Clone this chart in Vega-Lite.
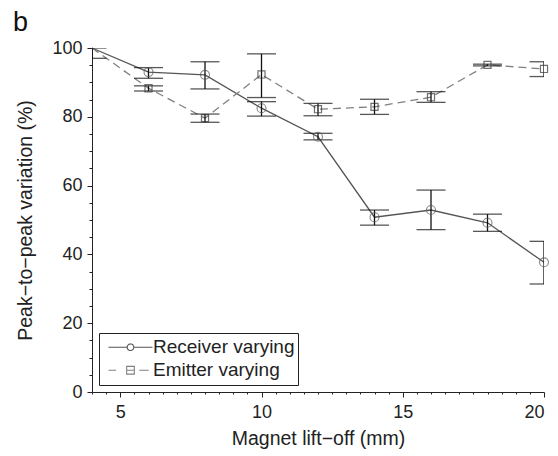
{
  "$schema": "https://vega.github.io/schema/vega-lite/v6.json",
  "width": 452,
  "height": 344,
  "autosize": {"type": "none"},
  "padding": {"left": 92, "top": 48, "right": 14, "bottom": 64},
  "background": "white",
  "config": {
    "view": {"stroke": null},
    "font": "Liberation Sans",
    "axis": {
      "grid": false,
      "domainColor": "#222",
      "tickColor": "#222",
      "labelColor": "#222",
      "titleColor": "#222",
      "labelFont": "Liberation Sans",
      "titleFont": "Liberation Sans",
      "labelFontSize": 18,
      "titleFontSize": 19.5,
      "titleFontWeight": "normal",
      "labelOverlap": false
    },
    "legend": {
      "title": null,
      "orient": "bottom-left",
      "offset": 7,
      "strokeColor": "#222",
      "fillColor": "white",
      "padding": 3,
      "rowPadding": 0,
      "clipHeight": 22.5,
      "symbolSize": 3025,
      "symbolStrokeWidth": 1,
      "labelFont": "Liberation Sans",
      "labelFontSize": 19,
      "labelColor": "#222",
      "labelOffset": -6
    }
  },
  "title": {
    "text": "b",
    "anchor": "start",
    "frame": "group",
    "font": "Liberation Sans",
    "fontSize": 27,
    "fontWeight": "normal",
    "color": "#111",
    "dx": -79,
    "offset": 2
  },
  "data": {
    "values": [
      {"x": 4, "series": "Receiver varying", "y": 100, "lo": null, "hi": null},
      {"x": 6, "series": "Receiver varying", "y": 93.0, "lo": 91.2, "hi": 94.3},
      {"x": 8, "series": "Receiver varying", "y": 92.2, "lo": 88.1, "hi": 96.0},
      {"x": 10, "series": "Receiver varying", "y": 82.5, "lo": 80.2, "hi": 84.4},
      {"x": 12, "series": "Receiver varying", "y": 74.2, "lo": 73.3, "hi": 75.2},
      {"x": 14, "series": "Receiver varying", "y": 50.8, "lo": 48.5, "hi": 52.9},
      {"x": 16, "series": "Receiver varying", "y": 52.9, "lo": 47.2, "hi": 58.7},
      {"x": 18, "series": "Receiver varying", "y": 49.2, "lo": 46.7, "hi": 51.7},
      {"x": 20, "series": "Receiver varying", "y": 37.7, "lo": 31.4, "hi": 43.8},
      {"x": 4, "series": "Emitter varying", "y": 100, "lo": 97, "hi": 100},
      {"x": 6, "series": "Emitter varying", "y": 88.3, "lo": 87.5, "hi": 89.0},
      {"x": 8, "series": "Emitter varying", "y": 79.6, "lo": 78.4, "hi": 80.8},
      {"x": 10, "series": "Emitter varying", "y": 92.3, "lo": 85.6, "hi": 98.3},
      {"x": 12, "series": "Emitter varying", "y": 82.2, "lo": 80.3, "hi": 83.9},
      {"x": 14, "series": "Emitter varying", "y": 82.9, "lo": 80.7, "hi": 85.1},
      {"x": 16, "series": "Emitter varying", "y": 85.7, "lo": 84.2, "hi": 87.3},
      {"x": 18, "series": "Emitter varying", "y": 95.1, "lo": 94.8, "hi": 95.3},
      {"x": 20, "series": "Emitter varying", "y": 93.9, "lo": 91.7, "hi": 96.0}
    ]
  },
  "encoding": {
    "x": {
      "field": "x",
      "type": "quantitative",
      "scale": {"domain": [4, 20], "nice": false, "zero": false},
      "axis": {
        "title": "Magnet lift−off (mm)",
        "values": [4,4.5,5,5.5,6,6.5,7,7.5,8,8.5,9,9.5,10,10.5,11,11.5,12,12.5,13,13.5,14,14.5,15,15.5,16,16.5,17,17.5,18,18.5,19,19.5,20],
        "labelExpr": "datum.value % 5 === 0 ? format(datum.value, 'd') : ''",
        "tickSize": {"condition": {"test": "datum.value % 5 === 0", "value": 5}, "value": 2},
        "labelPadding": 6,
        "titlePadding": 8
      }
    },
    "y": {
      "field": "y",
      "type": "quantitative",
      "scale": {"domain": [0, 100], "nice": false},
      "axis": {
        "title": "Peak−to−peak variation (%)",
        "values": [0,5,10,15,20,25,30,35,40,45,50,55,60,65,70,75,80,85,90,95,100],
        "labelExpr": "datum.value % 20 === 0 ? datum.label : ''",
        "tickSize": {"condition": {"test": "datum.value % 20 === 0", "value": 5}, "value": 3},
        "labelPadding": 5,
        "titlePadding": 16
      }
    }
  },
  "layer": [
    {
      "transform": [{"filter": "datum.series === 'Receiver varying'"}],
      "mark": {"type": "line", "strokeWidth": 1.3},
      "encoding": {
        "color": {
          "field": "series",
          "type": "nominal",
          "scale": {"domain": ["Receiver varying", "Emitter varying"], "range": ["#555555", "#808080"]},
          "legend": {
            "encode": {
              "symbols": {
                "update": {
                  "shape": {"signal": "datum.value === 'Receiver varying' ? 'M-0.8,0L-0.12,0M0.12,0L0.8,0M-0.12,0A0.12,0.12,0,1,1,0.12,0A0.12,0.12,0,1,1,-0.12,0' : 'M-0.8,0L-0.52,0M0.32,0L0.66,0M-0.14,-0.14L0.14,-0.14L0.14,0.14L-0.14,0.14ZM-0.14,0L0.14,0'"},
                  "stroke": {"value": "#333"},
                  "fill": {"value": "transparent"},
                  "strokeWidth": {"value": 1.1},
                  "strokeDash": {"value": [1, 0]}
                }
              }
            }
          }
        }
      }
    },
    {
      "transform": [{"filter": "datum.series === 'Emitter varying'"}],
      "mark": {"type": "line", "strokeWidth": 1.3, "strokeDash": [8, 5]},
      "encoding": {
        "color": {
          "field": "series",
          "type": "nominal",
          "scale": {"domain": ["Receiver varying", "Emitter varying"], "range": ["#555555", "#808080"]}
        }
      }
    },
    {
      "transform": [{"filter": "datum.lo != null"}],
      "mark": {"type": "rule", "color": "#111", "strokeWidth": 1.3, "clip": true},
      "encoding": {
        "y": {"field": "lo", "type": "quantitative"},
        "y2": {"field": "hi"}
      }
    },
    {
      "transform": [{"filter": "datum.lo != null"}],
      "mark": {"type": "tick", "orient": "horizontal", "color": "#111", "size": 29, "thickness": 1.3, "clip": true},
      "encoding": {
        "y": {"field": "lo", "type": "quantitative"}
      }
    },
    {
      "transform": [{"filter": "datum.hi != null"}],
      "mark": {"type": "tick", "orient": "horizontal", "color": "#111", "size": 29, "thickness": 1.3, "clip": true},
      "encoding": {
        "y": {"field": "hi", "type": "quantitative"}
      }
    },
    {
      "transform": [{"filter": "datum.x > 4 && datum.series === 'Receiver varying'"}],
      "mark": {"type": "point", "shape": "circle", "filled": false, "size": 80, "strokeWidth": 1.1, "color": "#555"}
    },
    {
      "transform": [{"filter": "datum.x > 4 && datum.series === 'Emitter varying'"}],
      "mark": {"type": "point", "shape": "square", "filled": false, "size": 50, "strokeWidth": 1.2, "color": "#333"}
    }
  ]
}
